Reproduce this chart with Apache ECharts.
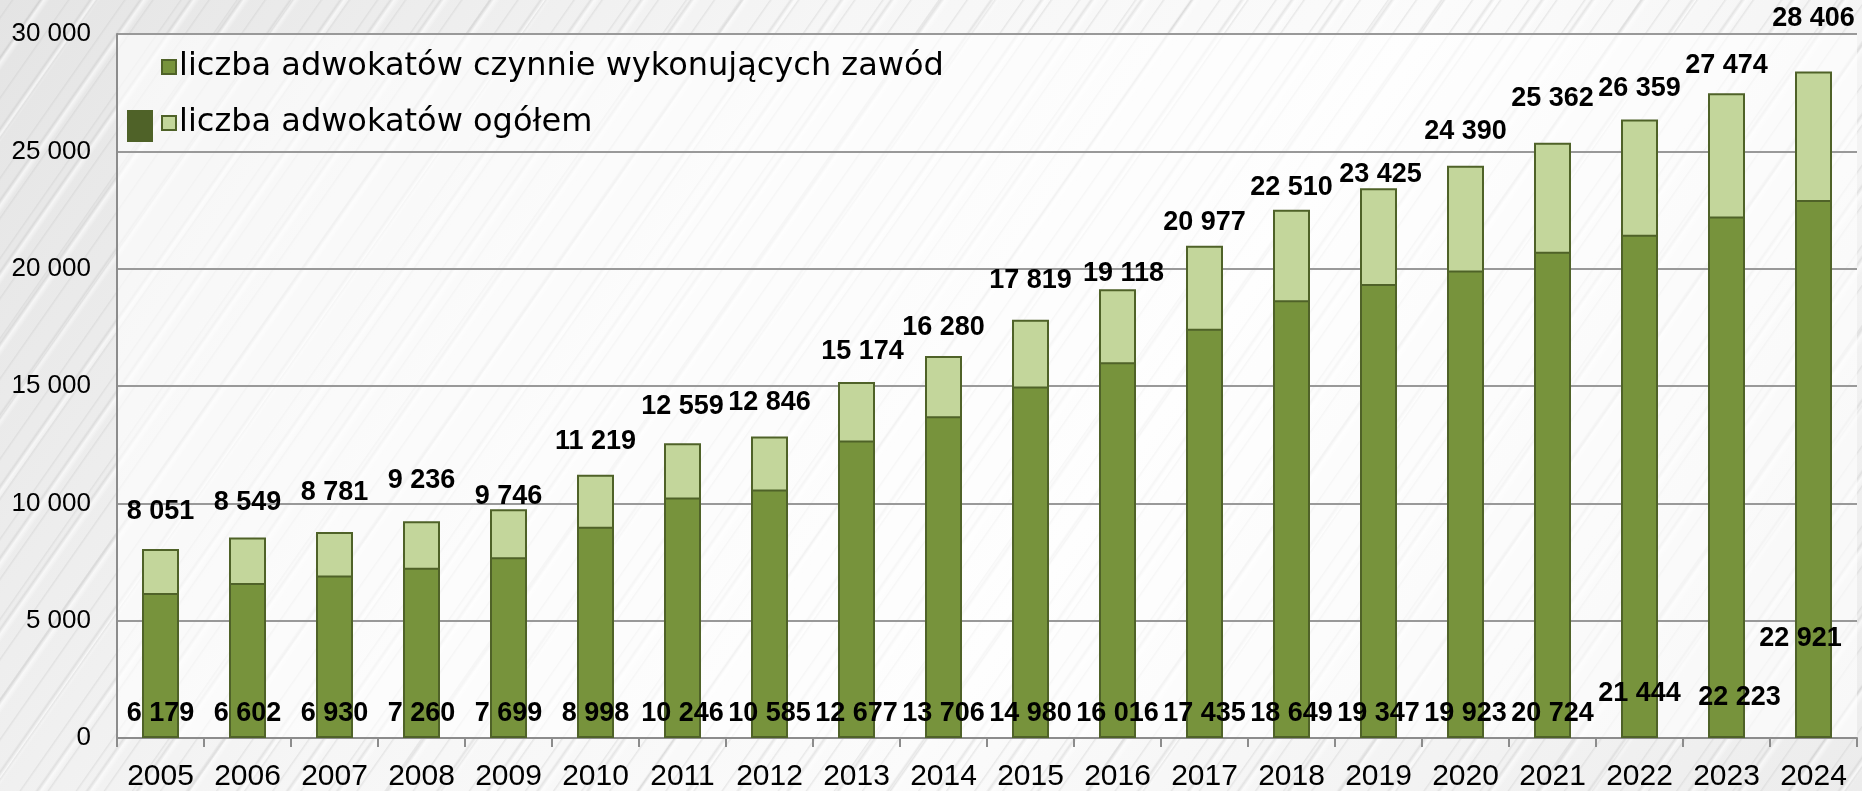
<!DOCTYPE html>
<html>
<head>
<meta charset="utf-8">
<script src="https://cdn.jsdelivr.net/npm/echarts@6/dist/echarts.min.js"></script>
<style>
html,body{margin:0;padding:0;width:1862px;height:791px;overflow:hidden;}
body{
  background:
    repeating-linear-gradient(125deg, rgba(255,255,255,0) 0px, rgba(255,255,255,0) 9px, rgba(200,200,200,0.35) 10px, rgba(255,255,255,0) 12px, rgba(255,255,255,0) 23px),
    repeating-linear-gradient(125deg, rgba(255,255,255,0) 0px, rgba(255,255,255,0) 31px, rgba(185,185,185,0.3) 33px, rgba(255,255,255,0.6) 36px, rgba(255,255,255,0) 41px),
    linear-gradient(125deg, #e4e4e4 0%, #f6f6f6 35%, #fbfbfb 60%, #ececec 100%);
}
#chart{width:1862px;height:791px;}
</style>
</head>
<body>
<div id="chart"></div>
<script>
const years = ['2005','2006','2007','2008','2009','2010','2011','2012','2013','2014','2015','2016','2017','2018','2019','2020','2021','2022','2023','2024'];
const totalLawyers = [8051,8549,8781,9236,9746,11219,12559,12846,15174,16280,17819,19118,20977,22510,23425,24390,25362,26359,27474,28406];
const activeLawyers = [6179,6602,6930,7260,7699,8998,10246,10585,12677,13706,14980,16016,17435,18649,19347,19923,20724,21444,22223,22921];
const seriesNames = ['liczba adwokatów czynnie wykonujących zawód','liczba adwokatów ogółem'];
const yTicks = {min:0, max:30000, interval:5000};

// label placement tweaks (layout only)
const topLabelGap = [38,35,40,41,13,34,37,35,31,29,40,16,24,23,14,35,45,31,28,53];
const topLabelDx  = [0,0,0,0,0,0,0,0,6,0,0,6,0,0,2,0,0,0,0,0];
const bottomLabelLift = [0,0,0,0,0,0,0,0,0,0,0,0,0,0,0,0,0,20,16,75];
const bottomLabelDx   = [0,0,0,0,0,0,0,0,0,0,0,0,0,0,0,0,0,0,13,-13];

const fmt = v => String(v).replace(/\B(?=(\d{3})+(?!\d))/g, ' ');
const labelFont = '"Liberation Sans",Arial,sans-serif';

const chart = echarts.init(document.getElementById('chart'), null, {renderer:'canvas'});
chart.setOption({
  backgroundColor: 'transparent',
  animation: false,
  grid: {left:117, right:5, top:34, bottom:53, outerBoundsMode:'none', containLabel:false, show:true, backgroundColor:'rgba(255,255,255,0.62)', borderWidth:0},
  legend: {
    orient:'vertical', left:156, top:46, itemWidth:14, itemHeight:14, itemGap:24,
    data: seriesNames,
    textStyle:{fontFamily:'"DejaVu Sans",sans-serif', fontSize:32, color:'#000', padding:[0,0,0,-2]},
    icon:'rect'
  },
  xAxis: {
    type:'category', data: years,
    axisLine:{lineStyle:{color:'#8c8c8c', width:2}},
    axisTick:{show:true, length:9, lineStyle:{color:'#8c8c8c', width:2}},
    axisLabel:{fontFamily:'"Liberation Sans",sans-serif', fontSize:30, color:'#000', margin:24}
  },
  yAxis: {
    type:'value', min:yTicks.min, max:yTicks.max, interval:yTicks.interval,
    axisLine:{show:true, lineStyle:{color:'#8c8c8c', width:2}},
    axisTick:{show:false},
    splitLine:{lineStyle:{color:'#999', width:2}},
    axisLabel:{fontFamily:'"Liberation Sans",sans-serif', fontSize:26, color:'#000', margin:26, formatter: v => fmt(v)}
  },
  series: [
    {
      name: seriesNames[1], type:'bar', barWidth:37, barGap:'-100%',
      itemStyle:{color:'#c3d69b', borderColor:'#4f6228', borderWidth:2},
      data: totalLawyers.map((v,i)=>({value:v, label:{offset:[topLabelDx[i], -(topLabelGap[i]-14)]}})),
      label:{show:true, position:'top', distance:0, fontFamily:labelFont, fontWeight:'bold', fontSize:27, color:'#000', formatter: p => fmt(p.value)},
      z:2
    },
    {
      name: seriesNames[0], type:'bar', barWidth:37, barGap:'-100%',
      itemStyle:{color:'#77933c', borderColor:'#4f6228', borderWidth:2},
      data: activeLawyers.map((v,i)=>({value:v, label:{offset:[bottomLabelDx[i], -bottomLabelLift[i]]}})),
      label:{show:true, position:'insideBottom', distance:11, fontFamily:labelFont, fontWeight:'bold', fontSize:27, color:'#000', formatter: p => fmt(p.value)},
      z:3
    }
  ],
  graphic: [
    {type:'rect', left:127, top:110, shape:{width:26, height:32}, style:{fill:'#4f6228'}, z:10}
  ]
});
</script>
</body>
</html>
